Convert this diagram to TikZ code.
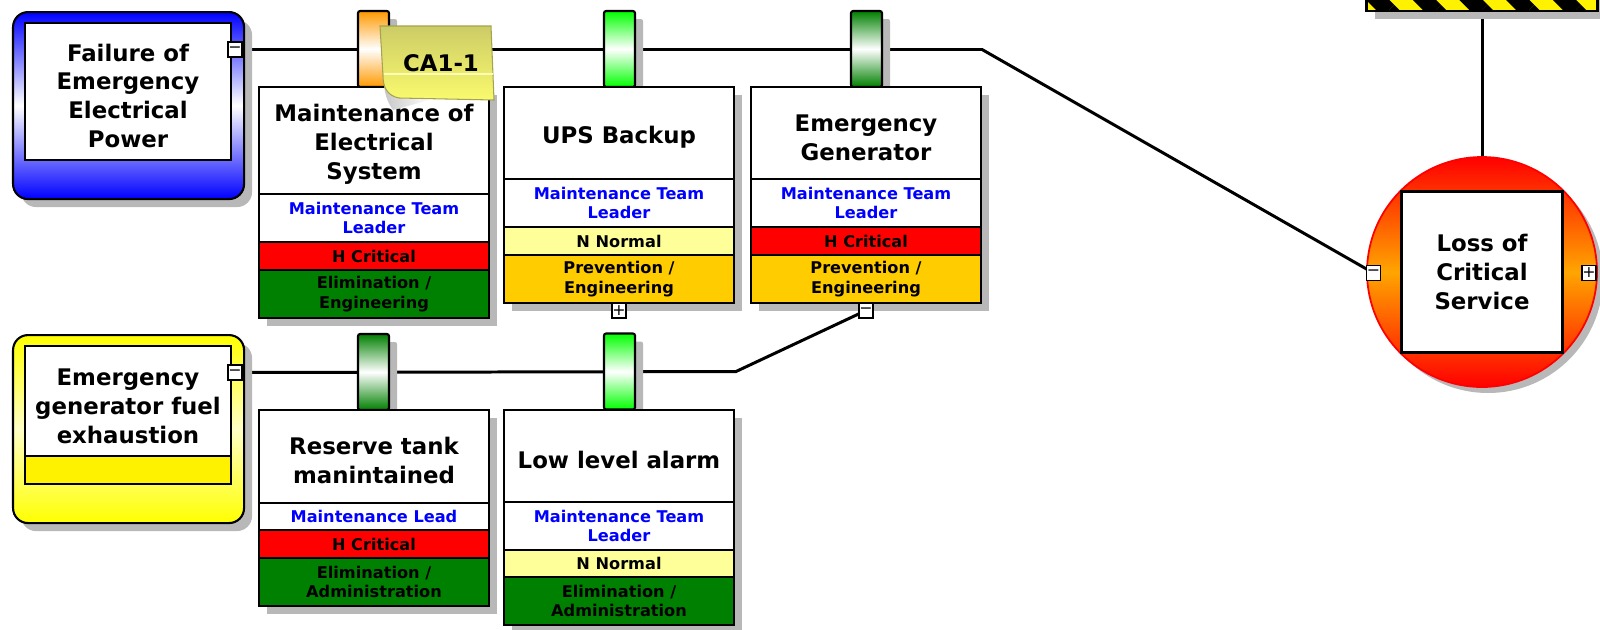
\documentclass[tikz,border=0pt]{standalone}
\usepackage{fontspec}
\setmainfont{DejaVu Sans}
\usetikzlibrary{positioning, shadows, patterns.meta}

\definecolor{barOrange}{RGB}{255,153,0}
\definecolor{barLime}{RGB}{0,255,0}
\definecolor{barGreen}{RGB}{0,128,0}
\definecolor{critRed}{RGB}{255,0,0}
\definecolor{normYellow}{RGB}{255,255,153}
\definecolor{prevGold}{RGB}{255,204,0}
\definecolor{elimGreen}{RGB}{0,128,0}
\definecolor{ownerBlue}{RGB}{0,0,255}
\definecolor{noteTop}{RGB}{204,204,102}
\definecolor{noteBottom}{RGB}{250,250,110}
\definecolor{eventOrange}{RGB}{255,165,0}

\pgfdeclarelayer{background}
\pgfsetlayers{background,main}

\begin{document}
\begin{tikzpicture}[
  x=1cm, y=-1cm,
  font=\fontsize{6.5}{8.2}\selectfont\bfseries,
  boxshadow/.style={drop shadow={shadow xshift=0.08cm, shadow yshift=-0.08cm, fill=black!28, opacity=1}},
  threatbox/.style={rectangle, rounded corners=0.15cm, draw=black, line width=0.6pt, minimum width=2.31cm, minimum height=1.87cm, anchor=north west, boxshadow},
  inner/.style={rectangle, draw=black, line width=0.6pt, fill=white, minimum width=2.06cm, anchor=north west, align=center, inner sep=0pt, outer sep=0pt},
  tab/.style={rectangle, draw=black, line width=0.6pt, rounded corners=0.6pt, minimum width=0.31cm, minimum height=0.76cm, boxshadow},
  card/.style={rectangle, draw=black, line width=0.6pt, minimum width=2.30cm, outer sep=0pt, inner sep=0pt, align=center, boxshadow},
  cardtitle/.style={card, fill=white, anchor=north west},
  cardline/.style={card, minimum height=0.48cm, font=\fontsize{4.6}{5.6}\selectfont\bfseries},
  toggle/.style={rectangle, draw=black, fill=white, line width=0.5pt, minimum width=0.14cm, minimum height=0.15cm, inner sep=0pt, outer sep=0pt, font=\fontsize{4.5}{5}\selectfont},
  conn/.style={line width=0.85pt, black}
]
\useasboundingbox (0,0) rectangle (16,6.29);

% Hazard and top event
\node[rectangle, draw=black, line width=0.6pt, fill=yellow, boxshadow,
  postaction={pattern={Lines[angle=-45, distance=0.33cm, line width=0.165cm]}, pattern color=black},
  minimum width=2.31cm, minimum height=0.36cm, inner sep=0pt, outer sep=0pt] (hazard) at (14.82,-0.07) {};
\node[circle, draw=red, line width=0.5pt, minimum size=2.30cm, top color=red, bottom color=red, middle color=eventOrange,
  drop shadow={shadow xshift=0.06cm, shadow yshift=-0.06cm, fill=black!28, opacity=1}] (topEvent) at (14.82,2.72) {};
\node[rectangle, draw=black, line width=0.6pt, fill=white, minimum size=1.61cm, align=center] (topEventText) at (topEvent.center) {Loss of\\Critical\\Service};
\node[toggle] (topLeft) at (13.735,2.73) {−};
\node[toggle] (topRight) at (15.89,2.73) {+};

% Threats
\node[threatbox, top color=blue, bottom color=blue, middle color=white] (threatA) at (0.12,0.11) {};
\node[inner, minimum height=1.37cm, text height=32pt] (threatAText) at (0.25,0.23) {Failure of\\Emergency\\Electrical\\Power};
\node[toggle] (threatAToggle) at (2.35,0.495) {−};

\node[threatbox, top color=yellow, bottom color=yellow, middle color=yellow!22, minimum height=1.88cm] (threatB) at (0.12,3.34) {};
\node[inner, minimum height=1.10cm, text height=24pt] (threatBText) at (0.25,3.46) {Emergency\\generator fuel\\exhaustion};
\node[inner, fill=yellow, minimum height=0.28cm, below=0pt of threatBText] (threatBBand) {};
\node[toggle] (threatBToggle) at (2.35,3.725) {−};

% Barriers on the upper path
\node[tab, top color=barOrange, bottom color=barOrange, middle color=white] (barA) at (3.735,0.49) {};
\node[cardtitle, minimum height=1.07cm, text height=23.6pt] (cardA) at (2.59,0.87) {Maintenance of\\Electrical\\System};
\node[cardline, below=0pt of cardA, text=ownerBlue, fill=white] (cardAOwner) {Maintenance Team\\Leader};
\node[cardline, below=0pt of cardAOwner, fill=critRed, minimum height=0.28cm] (cardACrit) {H Critical};
\node[cardline, below=0pt of cardACrit, fill=elimGreen] (cardAType) {Elimination /\\Engineering};

\node[tab, top color=barLime, bottom color=barLime, middle color=white] (barB) at (6.195,0.49) {};
\node[cardtitle, minimum height=0.92cm, text height=7.4pt] (cardB) at (5.04,0.87) {UPS Backup};
\node[cardline, below=0pt of cardB, text=ownerBlue, fill=white] (cardBOwner) {Maintenance Team\\Leader};
\node[cardline, below=0pt of cardBOwner, fill=normYellow, minimum height=0.28cm] (cardBCrit) {N Normal};
\node[cardline, below=0pt of cardBCrit, fill=prevGold] (cardBType) {Prevention /\\Engineering};
\node[toggle, below=0pt of cardBType] (cardBToggle) {+};

\node[tab, top color=barGreen, bottom color=barGreen, middle color=white] (barC) at (8.665,0.49) {};
\node[cardtitle, minimum height=0.92cm, text height=15.6pt] (cardC) at (7.51,0.87) {Emergency\\Generator};
\node[cardline, below=0pt of cardC, text=ownerBlue, fill=white] (cardCOwner) {Maintenance Team\\Leader};
\node[cardline, below=0pt of cardCOwner, fill=critRed, minimum height=0.28cm] (cardCCrit) {H Critical};
\node[cardline, below=0pt of cardCCrit, fill=prevGold] (cardCType) {Prevention /\\Engineering};
\node[toggle, below=0pt of cardCType] (cardCToggle) {−};

% Barriers on the lower path
\node[tab, top color=barGreen, bottom color=barGreen, middle color=white] (barD) at (3.735,3.72) {};
\node[cardtitle, minimum height=0.93cm, text height=15.6pt] (cardD) at (2.59,4.10) {Reserve tank\\manintained};
\node[cardline, below=0pt of cardD, text=ownerBlue, fill=white, minimum height=0.27cm] (cardDOwner) {Maintenance Lead};
\node[cardline, below=0pt of cardDOwner, fill=critRed, minimum height=0.28cm] (cardDCrit) {H Critical};
\node[cardline, below=0pt of cardDCrit, fill=elimGreen] (cardDType) {Elimination /\\Administration};

\node[tab, top color=barLime, bottom color=barLime, middle color=white] (barE) at (6.195,3.715) {};
\node[cardtitle, minimum height=0.92cm, text height=7.4pt] (cardE) at (5.04,4.10) {Low level alarm};
\node[cardline, below=0pt of cardE, text=ownerBlue, fill=white] (cardEOwner) {Maintenance Team\\Leader};
\node[cardline, below=0pt of cardEOwner, fill=normYellow, minimum height=0.27cm] (cardECrit) {N Normal};
\node[cardline, below=0pt of cardECrit, fill=elimGreen] (cardEType) {Elimination /\\Administration};

% Sticky note
\shade[left color=gray!45, right color=white] (3.83,0.76) .. controls (3.84,0.92) and (3.87,1.02) .. (3.93,1.10)
  -- (4.30,1.00) -- (3.99,0.98) .. controls (3.88,0.96) and (3.83,0.88) .. (3.83,0.76);
\path[draw=noteTop!80!black, line width=0.3pt, top color=noteTop, bottom color=noteBottom]
  (3.80,0.26) -- (4.91,0.26) -- (4.94,1.00) -- (3.99,0.98) .. controls (3.88,0.96) and (3.83,0.88) .. (3.83,0.76) -- cycle;
\draw[noteBottom!50!white, line width=0.3pt] (3.84,0.74) -- (4.93,0.74);
\node (noteLabel) at (4.41,0.63) {CA1-1};

% Connectors
\coordinate (bendTop) at (9.82,0.495);
\coordinate (bendLow) at (7.36,3.715);
\begin{pgfonlayer}{background}
\draw[conn] (threatAToggle.east) -- (bendTop) -- (topLeft);
\draw[conn] (threatBToggle.east) -- (bendLow) -- (cardCToggle);
\draw[conn] (hazard.south) -- (topEvent.north);
\end{pgfonlayer}

\end{tikzpicture}
\end{document}
